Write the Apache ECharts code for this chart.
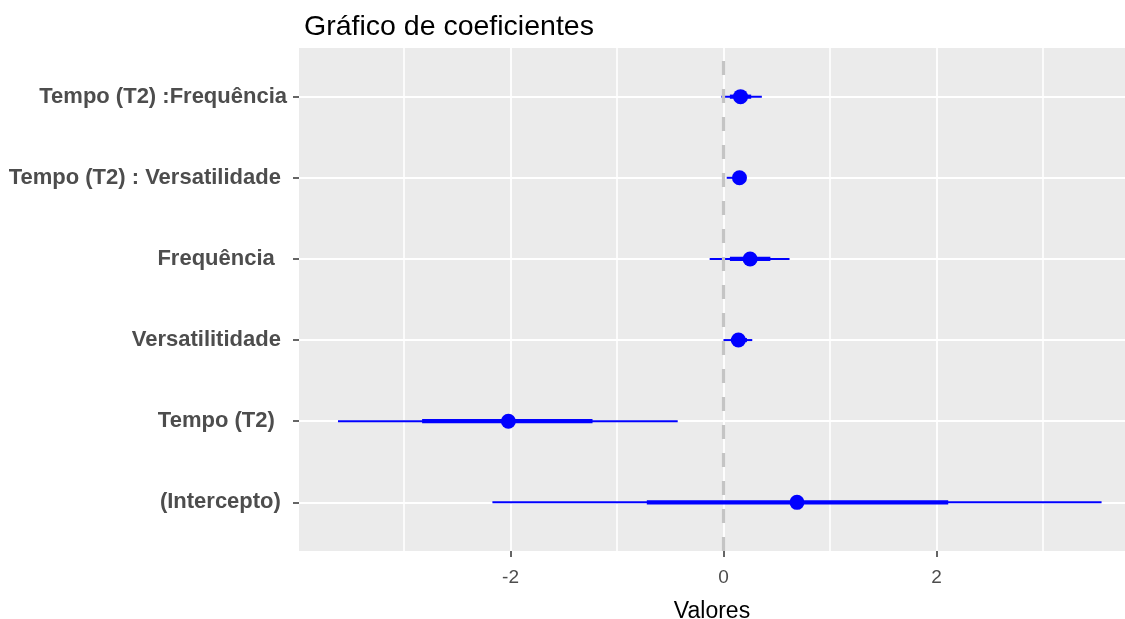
<!DOCTYPE html>
<html>
<head>
<meta charset="utf-8">
<script src="https://cdn.jsdelivr.net/npm/echarts@6/dist/echarts.min.js"></script>
<style>html,body{margin:0;padding:0;background:#fff;}#c{width:1125px;height:619px;}</style>
</head>
<body>
<div id="c"></div>
<script>
// Rows from bottom to top
var categories = ['(Intercepto) ', 'Tempo (T2)  ', 'Versatilitidade ', 'Frequência  ', 'Tempo (T2) : Versatilidade ', 'Tempo (T2) :Frequência'];
var estimates  = [0.69, -2.02, 0.14, 0.25, 0.15, 0.16];
var innerLow   = [-0.72, -2.83, 0.07, 0.06, 0.09, 0.06];
var innerHigh  = [2.11, -1.23, 0.22, 0.44, 0.20, 0.26];
var outerLow   = [-2.17, -3.62, 0.00, -0.13, 0.03, -0.02];
var outerHigh  = [3.55, -0.43, 0.27, 0.62, 0.21, 0.36];
var xMajorTicks = [-2, 0, 2];
var xMinorTicks = [-3, -1, 1, 3];
var yTicks = [1, 2, 3, 4, 5, 6];

var FONT = 'Liberation Sans, Arial, Helvetica, sans-serif';
var BLUE = '#0000FF';

function seg(lo, hi) {
  return categories.map(function (c, i) { return [lo[i], hi[i], i + 1]; });
}

function makeRender(width) {
  return function (params, api) {
    var p1 = api.coord([api.value(0), api.value(2)]);
    var p2 = api.coord([api.value(1), api.value(2)]);
    return {
      type: 'line',
      shape: { x1: p1[0], y1: p1[1], x2: p2[0], y2: p2[1] },
      style: { stroke: BLUE, lineWidth: width }
    };
  };
}

var chart = echarts.init(document.getElementById('c'), null, { renderer: 'canvas' });
var xMin = -3.986, xMax = 3.77;
chart.setOption({
  animation: false,
  backgroundColor: '#ffffff',
  title: {
    text: 'Gráfico de coeficientes',
    left: 299, top: 8,
    textStyle: { fontFamily: FONT, fontSize: 28.5, fontWeight: 'normal', color: '#000000' }
  },
  grid: {
    left: 299, right: 0, top: 48, bottom: 68,
    outerBoundsMode: 'none', containLabel: false,
    show: true, backgroundColor: '#EBEBEB', borderWidth: 0
  },
  xAxis: [{
    type: 'value', min: xMin, max: xMax,
    axisLine: { show: false, onZero: false },
    axisTick: { show: true, customValues: xMajorTicks, length: 6, lineStyle: { color: '#333333', width: 1.5 } },
    axisLabel: { customValues: xMajorTicks, color: '#4D4D4D', fontFamily: FONT, fontSize: 19, margin: 17 },
    splitLine: { show: true, lineStyle: { color: '#FFFFFF', width: 1.8 } },
    name: 'Valores', nameLocation: 'middle', nameGap: 49,
    nameTextStyle: { fontFamily: FONT, fontSize: 23, color: '#000000' }
  }, {
    type: 'value', min: xMin, max: xMax, position: 'bottom',
    axisLine: { show: false, onZero: false },
    axisTick: { show: false, customValues: xMinorTicks },
    axisLabel: { show: false, customValues: xMinorTicks },
    splitLine: { show: true, lineStyle: { color: '#FFFFFF', width: 1.6 } }
  }],
  yAxis: {
    type: 'value', min: 0.4, max: 6.6, position: 'left',
    axisLine: { show: false, onZero: false },
    axisTick: { show: true, customValues: yTicks, length: 6, lineStyle: { color: '#333333', width: 1.5 } },
    axisLabel: {
      customValues: yTicks, margin: 12,
      color: '#4D4D4D', fontFamily: FONT, fontSize: 22, fontWeight: 'bold',
      formatter: function (v) { return categories[Math.round(v) - 1] || ''; }
    },
    splitLine: { show: true, lineStyle: { color: '#FFFFFF', width: 1.8 } }
  },
  series: [{
    type: 'line', data: [], z: 1, silent: true,
    markLine: {
      silent: true, symbol: ['none', 'none'], label: { show: false },
      lineStyle: { type: [14, 14], color: '#C4C4C4', width: 3.2 },
      data: [{ xAxis: 0 }]
    }
  }, {
    type: 'custom', z: 3, renderItem: makeRender(2), data: seg(outerLow, outerHigh),
    encode: { x: [0, 1], y: 2 }
  }, {
    type: 'custom', z: 4, renderItem: makeRender(4.2), data: seg(innerLow, innerHigh),
    encode: { x: [0, 1], y: 2 }
  }, {
    type: 'scatter', z: 5, symbol: 'circle', symbolSize: 15,
    itemStyle: { color: BLUE, opacity: 1 },
    data: estimates.map(function (v, i) { return [v, i + 1]; })
  }]
});
</script>
</body>
</html>
